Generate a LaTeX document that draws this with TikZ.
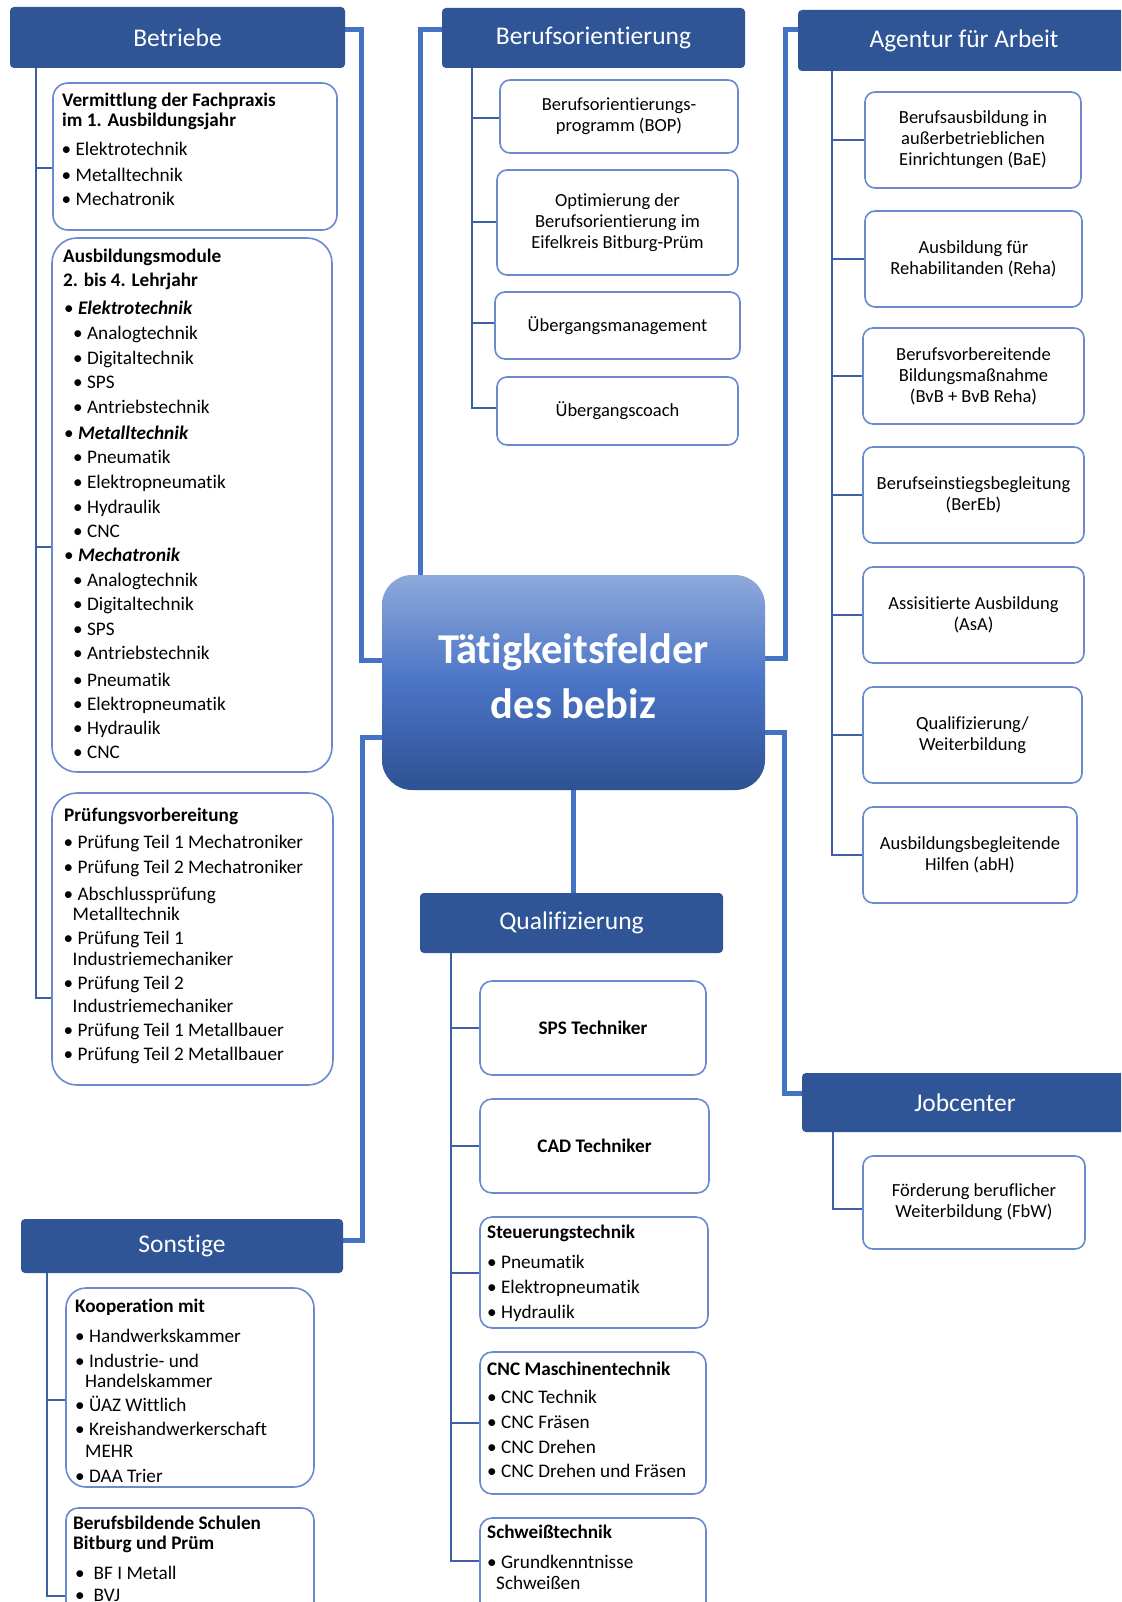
\documentclass[tikz,border=0pt]{standalone}
\usepackage{fontspec}
\setmainfont{Carlito}[Ligatures=NoCommon]
\definecolor{hdrblue}{HTML}{2F5597}
\definecolor{connblue}{HTML}{4472C4}
\definecolor{linkblue}{HTML}{3D5FA6}
\definecolor{boxblue}{HTML}{6A8ACF}
\definecolor{gradtop}{HTML}{8EA9DB}
\definecolor{gradmid}{HTML}{4A74C6}
\definecolor{gradbot}{HTML}{2E5192}
\newcommand{\bodyfont}{\fontsize{18.5}{21}\selectfont}
\newcommand{\listfont}{\fontsize{19.2}{21}\selectfont}
\newcommand{\bul}{\textbullet\ }
\pgfdeclarelayer{bg}
\pgfsetlayers{bg,main}
\begin{document}
\begin{tikzpicture}[x=1pt,y=-1pt,
  hdr/.style={fill=hdrblue, rounded corners=4pt, text=white, inner sep=0pt, font=\fontsize{25.5}{28}\selectfont},
  box/.style={draw=boxblue, line width=1.6pt, fill=white, inner sep=0pt},
  cbox/.style={box, align=center, font=\bodyfont, rounded corners=10pt},
  txt/.style={anchor=base west, inner sep=0pt, font=\listfont},
  thickc/.style={draw=connblue, line width=5pt},
  thinc/.style={draw=linkblue, line width=2pt},
]
\useasboundingbox (0,0) rectangle (1121,1602);
\clip (0,0) rectangle (1121,1602);

% ---------- centre ----------
\node[rounded corners=30pt, top color=gradtop, bottom color=gradbot, middle color=gradmid,
      minimum width=383pt, minimum height=215pt, inner sep=0pt] (center) at (573.5,682.5) {};
\node[align=center, text=white, font=\bfseries\fontsize{42.5}{55}\selectfont, inner sep=0pt] (centertext) at (573.5,676) {Tätigkeitsfelder\\des bebiz};

% ---------- headers ----------
\node[hdr, minimum width=335pt, minimum height=61pt] (betriebe) at (177.5,37.5) {Betriebe};
\node[hdr, minimum width=303pt, minimum height=60pt] (bo) at (593.5,38) {Berufsorientierung};
\node[hdr, minimum width=332pt, minimum height=61pt] (aa) at (964,40.5) {Agentur für Arbeit};
\node[hdr, minimum width=303pt, minimum height=60pt] (quali) at (571.5,923) {Qualifizierung};
\node[hdr, minimum width=322pt, minimum height=54pt] (sonst) at (182,1246) {Sonstige};
\node[hdr, minimum width=326pt, minimum height=59pt] (jc) at (965,1102.5) {Jobcenter};

% ---------- Betriebe boxes ----------
\node[box, rounded corners=15pt, minimum width=284pt, minimum height=147pt] (b1) at (195,156.5) {};
\node[box, rounded corners=25pt, minimum width=280pt, minimum height=534pt] (b2) at (192,505) {};
\node[box, rounded corners=25pt, minimum width=281pt, minimum height=292pt] (b3) at (192.5,939) {};

\foreach \x/\y/\t [count=\i] in {
  62/107/{\textbf{Vermittlung der Fachpraxis}},
  62/127/{\textbf{im 1. Ausbildungsjahr}},
  61.5/156/{\bul Elektrotechnik},
  61.5/182/{\bul Metalltechnik},
  61.5/206/{\bul Mechatronik}}
  \node[txt] (b1t\i) at (\x,\y) {\t};

\foreach \x/\y/\t [count=\i] in {
  63/263/{\textbf{Ausbildungsmodule}},
  63/287/{\textbf{2. bis 4. Lehrjahr}},
  64/315/{\bul\textbf{\textit{Elektrotechnik}}},
  73/339/{\bul Analogtechnik},
  73/364/{\bul Digitaltechnik},
  73/388/{\bul SPS},
  73/413/{\bul Antriebstechnik},
  64/439/{\bul\textbf{\textit{Metalltechnik}}},
  73/463/{\bul Pneumatik},
  73/488/{\bul Elektropneumatik},
  73/513/{\bul Hydraulik},
  73/537/{\bul CNC},
  64/561/{\bul\textbf{\textit{Mechatronik}}},
  73/586/{\bul Analogtechnik},
  73/610/{\bul Digitaltechnik},
  73/635/{\bul SPS},
  73/659/{\bul Antriebstechnik},
  73/686/{\bul Pneumatik},
  73/710/{\bul Elektropneumatik},
  73/734/{\bul Hydraulik},
  73/758/{\bul CNC}}
  \node[txt] (b2t\i) at (\x,\y) {\t};

\foreach \x/\y/\t [count=\i] in {
  64/821/{\textbf{Prüfungsvorbereitung}},
  63.5/848/{\bul Prüfung Teil 1 Mechatroniker},
  63.5/873/{\bul Prüfung Teil 2 Mechatroniker},
  63.5/900/{\bul Abschlussprüfung},
  72.5/920/{Metalltechnik},
  63.5/944/{\bul Prüfung Teil 1},
  72.5/965/{Industriemechaniker},
  63.5/989/{\bul Prüfung Teil 2},
  72.5/1012/{Industriemechaniker},
  63.5/1036/{\bul Prüfung Teil 1 Metallbauer},
  63.5/1060/{\bul Prüfung Teil 2 Metallbauer}}
  \node[txt] (b3t\i) at (\x,\y) {\t};

% ---------- Sonstige boxes ----------
\node[box, rounded corners=20pt, minimum width=248pt, minimum height=199pt] (koop) at (190,1387.5) {};
\node[box, rounded corners=12pt, minimum width=248pt, minimum height=152pt] (bbs) at (190,1584) {};

\foreach \x/\y/\t [count=\i] in {
  75/1312/{\textbf{Kooperation mit}},
  75/1342/{\bul Handwerkskammer},
  75/1367/{\bul Industrie- und},
  85/1387/{Handelskammer},
  75/1411/{\bul ÜAZ Wittlich},
  75/1435/{\bul Kreishandwerkerschaft},
  85/1457/{MEHR},
  75/1482/{\bul DAA Trier}}
  \node[txt] (kt\i) at (\x,\y) {\t};

\foreach \x/\y/\t [count=\i] in {
  73/1529/{\textbf{Berufsbildende Schulen}},
  73/1549/{\textbf{Bitburg und Prüm}},
  75/1579/{\textbullet\hspace{9pt}BF I Metall},
  75/1601/{\textbullet\hspace{9pt}BVJ}}
  \node[txt] (bt\i) at (\x,\y) {\t};

% ---------- Berufsorientierung boxes ----------
\node[cbox, minimum width=238pt, minimum height=73pt] (bop) at (619,116.5) {Berufsorientierungs-\\programm (BOP)};
\node[cbox, minimum width=241pt, minimum height=105pt] (opt) at (617.5,222.5) {Optimierung der\\Berufsorientierung im\\Eifelkreis Bitburg-Prüm};
\node[cbox, minimum width=245pt, minimum height=67pt] (uem) at (617.5,325.5) {Übergangsmanagement};
\node[cbox, minimum width=241pt, minimum height=68pt] (uec) at (617.5,411) {Übergangscoach};

% ---------- Agentur boxes ----------
\node[cbox, minimum width=216pt, minimum height=96pt] (bae) at (973,140) {Berufsausbildung in\\außerbetrieblichen\\Einrichtungen (BaE)};
\node[cbox, minimum width=217pt, minimum height=96pt] (reha) at (973.5,259) {Ausbildung für\\Rehabilitanden (Reha)};
\node[cbox, minimum width=221pt, minimum height=96pt] (bvb) at (973.5,376) {Berufsvorbereitende\\Bildungsmaßnahme\\(BvB + BvB Reha)};
\node[cbox, minimum width=221pt, minimum height=96pt] (bereb) at (973.5,495) {Berufseinstiegsbegleitung\\(BerEb)};
\node[cbox, minimum width=221pt, minimum height=96pt] (asa) at (973.5,615) {Assisitierte Ausbildung\\(AsA)};
\node[cbox, minimum width=219pt, minimum height=96pt] (qw) at (972.5,735) {Qualifizierung/\\Weiterbildung};
\node[cbox, minimum width=214pt, minimum height=96pt] (abh) at (970,855) {Ausbildungsbegleitende\\Hilfen (abH)};

% ---------- Jobcenter box ----------
\node[cbox, minimum width=222pt, minimum height=93pt] (fbw) at (974,1202.5) {Förderung beruflicher\\Weiterbildung (FbW)};

% ---------- Qualifizierung boxes ----------
\node[cbox, rounded corners=12pt, minimum width=226pt, minimum height=94pt, font=\listfont\bfseries] (sps) at (593,1028) {SPS Techniker};
\node[cbox, rounded corners=12pt, minimum width=229pt, minimum height=94pt, font=\listfont\bfseries] (cad) at (594.5,1146) {CAD Techniker};
\node[box, rounded corners=12pt, minimum width=228pt, minimum height=111pt] (steu) at (594,1272.5) {};
\node[box, rounded corners=12pt, minimum width=226pt, minimum height=142pt] (cnc) at (593,1423) {};
\node[box, rounded corners=12pt, minimum width=226pt, minimum height=142pt] (schw) at (593,1589) {};

\foreach \x/\y/\t [count=\i] in {
  487/1238/{\textbf{Steuerungstechnik}},
  487/1268/{\bul Pneumatik},
  487/1293/{\bul Elektropneumatik},
  487/1318/{\bul Hydraulik},
  487/1375/{\textbf{CNC Maschinentechnik}},
  487/1403/{\bul CNC Technik},
  487/1428/{\bul CNC Fräsen},
  487/1453/{\bul CNC Drehen},
  487/1477/{\bul CNC Drehen und Fräsen},
  487/1538/{\textbf{Schweißtechnik}},
  487/1568/{\bul Grundkenntnisse},
  496/1589/{Schweißen}}
  \node[txt] (qt\i) at (\x,\y) {\t};

% ---------- connectors ----------
\begin{pgfonlayer}{bg}
\fill[white] (0,0) rectangle (1121,1602);
% thick: centre to headers
\draw[thickc] ([yshift=7.5pt]betriebe.east) -| ([xshift=-20pt,yshift=22.5pt]center.west) -- ([yshift=22.5pt]center.west);
\draw[thickc] ([yshift=-54.5pt]center.west) -| ([xshift=19pt,yshift=6pt]sonst.east) -- ([yshift=6pt]sonst.east);
\draw[thickc] ([yshift=8pt]bo.west) -| ([xshift=-153.5pt]center.north);
\draw[thickc] ([yshift=10.5pt]aa.west) -| ([xshift=20pt,yshift=24.5pt]center.east) -- ([yshift=24.5pt]center.east);
\draw[thickc] ([yshift=-49.5pt]center.east) -| ([xshift=-17pt,yshift=9.5pt]jc.west) -- ([yshift=9.5pt]jc.west);
\draw[thickc] (center.south) -- (center.south |- quali.north);

% thin: Betriebe
\draw[thinc] ([xshift=26pt]betriebe.south west) |- ([yshift=-59pt]b3.west);
\draw[thinc] ([xshift=26pt]betriebe.south west) |- ([yshift=-11.5pt]b1.west);
\draw[thinc] ([xshift=26pt]betriebe.south west) |- ([yshift=-42pt]b2.west);
% thin: Sonstige
\draw[thinc] ([xshift=26pt]sonst.south west) |- ([yshift=-12pt]bbs.west);
\draw[thinc] ([xshift=26pt]sonst.south west) |- ([yshift=-12.5pt]koop.west);
% thin: Berufsorientierung
\draw[thinc] ([xshift=30pt]bo.south west) |- ([yshift=3pt]uec.west);
\draw[thinc] ([xshift=30pt]bo.south west) |- ([yshift=-1.5pt]bop.west);
\draw[thinc] ([xshift=30pt]bo.south west) |- (opt.west);
\draw[thinc] ([xshift=30pt]bo.south west) |- ([yshift=2.5pt]uem.west);
% thin: Agentur
\foreach \b in {abh,bae,reha,bvb,bereb,asa,qw}
  \draw[thinc] ([xshift=34pt]aa.south west) |- (\b.west);
% thin: Jobcenter
\draw[thinc] ([xshift=31pt]jc.south west) |- ([yshift=-6.5pt]fbw.west);
% thin: Qualifizierung
\draw[thinc] ([xshift=31pt]quali.south west) |- ([yshift=28pt]schw.west);
\foreach \b in {sps,cad,steu,cnc}
  \draw[thinc] ([xshift=31pt]quali.south west) |- (\b.west);
\end{pgfonlayer}
\end{tikzpicture}
\end{document}
